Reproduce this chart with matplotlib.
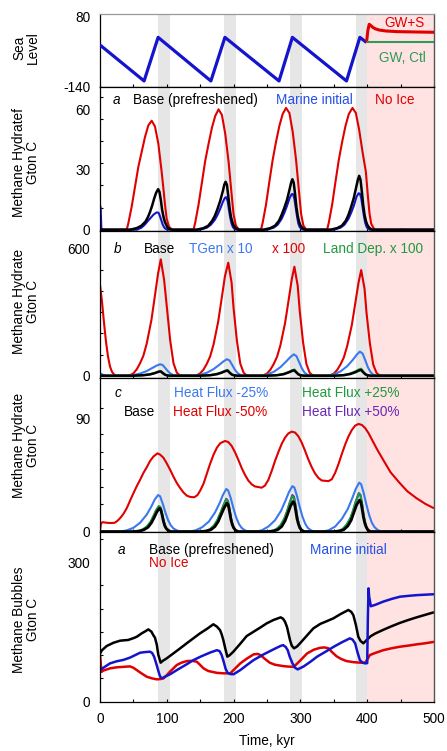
import numpy as np
import matplotlib
matplotlib.use("Agg")
import matplotlib.pyplot as plt
from matplotlib.ticker import MultipleLocator, FixedLocator

plt.rcParams['font.family'] = ['Liberation Sans', 'DejaVu Sans']
plt.rcParams['font.size'] = 9.8

# time axis, kyr
t_end = 500
glacial_bands = [(87, 105), (186, 204), (284, 302), (383, 399)]
no_ice_start = 399

# sea level (m)
sea_level = [(0, -8), (66, -121), (87, 16), (166, -121), (187, 16), (268, -121),
             (288, 16), (369, -121), (389, 16), (399, 0)]
sea_gw_s = [(399, 0), (401, 38), (403, 57), (405, 54), (408, 48), (412, 43), (418, 39),
            (428, 36), (445, 34), (470, 33), (500, 32)]
sea_gw_ctl = [(399, 0), (500, 0)]

# panel a: methane hydrate, Gton C
hyd_base = [(0, 0), (45, 0), (55, 0.8), (62, 2), (68, 4), (72, 6.5), (75, 9), (78, 12), (81, 15.5),
            (84, 18.5), (87, 20.3), (89, 19), (91, 15), (93, 10), (95, 6.5), (97, 4), (99, 2.5),
            (101, 1.2), (104, 0.4), (108, 0),
            (145, 0), (155, 0.8), (162, 2), (168, 4.5), (172, 7), (176, 10.5), (180, 14.5),
            (184, 19.5), (186, 22.5), (188, 24), (190, 22.5), (192, 17), (194, 11), (196, 6.5),
            (198, 4), (200, 2.2), (203, 0.8), (207, 0),
            (245, 0), (255, 0.8), (262, 2), (268, 4.5), (272, 7.5), (276, 11), (280, 15),
            (284, 20.5), (286, 23.5), (288, 25.3), (290, 23.5), (292, 18), (294, 11.5), (296, 7),
            (298, 4), (300, 2.2), (303, 0.8), (307, 0),
            (345, 0), (355, 0.8), (362, 2), (368, 4.5), (372, 7.5), (376, 11.5), (380, 16),
            (384, 22), (386, 25), (388, 27), (390, 25), (392, 19), (394, 12.5), (396, 7.5),
            (398, 4.5), (400, 2.5), (403, 1), (407, 0), (500, 0)]
hyd_marine = [(0, 12.3), (1, 11), (2, 1), (3, 0), (55, 0), (62, 1), (67, 2.5), (72, 4.5), (76, 6),
              (80, 7.5), (84, 8.5), (86, 8.7), (88, 8.3), (90, 6.5), (92, 4.5), (94, 2.5),
              (96, 1.2), (98, 0.5), (101, 0),
              (150, 0), (160, 1), (166, 2.5), (172, 5), (176, 7.5), (180, 10.5), (184, 14),
              (187, 16), (189, 16.3), (191, 14.5), (193, 10), (195, 6), (197, 3), (199, 1.3),
              (201, 0.5), (204, 0),
              (250, 0), (260, 1), (266, 2.5), (272, 5.5), (276, 8.5), (280, 12), (284, 16),
              (287, 17.8), (289, 17.8), (291, 15.5), (293, 11), (295, 6.5), (297, 3), (299, 1.3),
              (301, 0.5), (304, 0),
              (350, 0), (360, 1), (366, 2.5), (372, 5.5), (376, 8.5), (380, 12), (384, 16.5),
              (387, 18.2), (389, 18.1), (391, 16), (393, 11.5), (395, 7), (397, 3.5), (399, 1.5),
              (401, 0.5), (404, 0), (500, 0)]
hyd_no_ice = [(0, 0), (40, 0), (42.4, 3.2), (47.4, 11.5), (52.4, 21.5), (57.4, 31.5), (62.4, 39),
              (67.4, 46.5), (72.4, 52.3), (77.4, 54.6), (82.3, 51.7), (87.3, 43.2), (92.3, 29),
              (94.8, 21), (97.3, 12.5), (99.8, 5.5), (103.3, 1.5), (108, 0),
              (140, 0), (142.5, 3.5), (147.5, 12.5), (152.5, 23.5), (157.5, 34.5), (162.5, 43),
              (167.5, 51), (172.5, 57), (177.5, 60.3), (182.5, 57.5), (187.5, 48), (192.5, 34),
              (195, 25), (197.5, 16), (200, 7.5), (203.5, 2), (208, 0),
              (241, 0), (243.5, 3.5), (248.5, 12.5), (253.5, 24), (258.5, 35), (263.5, 44),
              (268.5, 52), (273.5, 58), (278.5, 61), (283.5, 58.5), (288.5, 49), (293.5, 35),
              (296, 26), (298.5, 17), (301, 8), (304.5, 2), (309, 0),
              (340, 0), (342.5, 3.5), (347.5, 12.5), (352.5, 24), (357.5, 35), (362.5, 44),
              (367.5, 52), (372.5, 58), (378, 61), (383, 58.5), (388, 50), (393, 39), (398, 29),
              (401, 17), (403.5, 8), (406, 3), (410, 0.5), (413, 0), (500, 0)]

# panel b: sensitivity to methane generation and land deposition
b_base = [(0, 0), (50, 0), (65, 2), (75, 6), (82, 12), (88, 19), (91, 20), (94, 12), (97, 5),
          (100, 1.5), (105, 0),
          (150, 0), (165, 2), (175, 7), (182, 14), (188, 22), (191, 24), (194, 14), (197, 6),
          (200, 2), (205, 0),
          (250, 0), (265, 2), (275, 7), (282, 15), (288, 23), (291, 25), (294, 15), (297, 6),
          (300, 2), (305, 0),
          (350, 0), (365, 2), (375, 8), (382, 16), (388, 25), (391, 27), (394, 16), (397, 7),
          (400, 2), (405, 0), (500, 0)]
b_tgen10 = [(0, 12), (4, 5), (8, 0), (40, 0), (50, 3), (60, 10), (70, 22), (78, 36), (85, 48),
            (90, 54), (94, 50), (98, 35), (102, 20), (106, 9), (110, 3), (114, 0),
            (140, 0), (150, 4), (160, 14), (170, 31), (178, 50), (185, 68), (190, 78), (194, 72),
            (198, 50), (202, 28), (206, 12), (210, 4), (214, 0),
            (240, 0), (250, 5), (260, 18), (270, 40), (278, 65), (285, 88), (290, 101), (294, 93),
            (298, 65), (302, 36), (306, 15), (310, 5), (314, 0),
            (340, 0), (350, 6), (360, 20), (370, 45), (378, 73), (384, 98), (389, 114), (393, 105),
            (397, 74), (401, 40), (405, 17), (409, 5), (413, 0), (500, 0)]
b_tgen100 = [(0, 430), (3, 350), (6, 250), (9, 160), (12, 90), (15, 43), (18, 18), (21, 6),
             (24, 1), (28, 0),
             (43, 0), (46, 4), (50, 11), (55, 30), (60, 59), (65, 95), (70, 153), (77, 264),
             (82, 374), (87, 485), (91, 551), (96, 453), (100, 327), (105, 169), (110, 59),
             (115, 14), (119, 3), (123, 0),
             (143, 0), (146, 4), (150, 11), (155, 29), (160, 57), (165, 92), (170, 148), (177, 257),
             (182, 363), (187, 470), (192, 535), (197, 440), (200, 318), (205, 164), (210, 57),
             (215, 14), (219, 3), (223, 0),
             (243, 0), (246, 4), (250, 10), (255, 28), (260, 55), (265, 89), (270, 143), (277, 248),
             (282, 350), (287, 455), (291, 516), (296, 425), (299, 307), (304, 158), (309, 55),
             (314, 13), (318, 3), (322, 0),
             (343, 0), (346, 4), (350, 10), (355, 27), (360, 53), (365, 86), (370, 140), (377, 240),
             (382, 340), (387, 440), (391, 500), (396, 412), (399, 297), (404, 153), (409, 53),
             (414, 13), (418, 3), (422, 0), (500, 0)]
b_land100 = [(0, 0), (48, 0), (63, 2), (74, 7), (82, 13), (88, 20), (91, 22), (94, 14), (97, 6),
             (101, 1.5), (106, 0),
             (148, 0), (163, 2), (174, 8), (182, 16), (188, 24), (191, 27), (194, 16), (197, 7),
             (201, 2), (206, 0),
             (248, 0), (263, 2), (274, 8), (282, 17), (288, 26), (291, 29), (294, 18), (297, 8),
             (301, 2), (306, 0),
             (348, 0), (363, 2.5), (374, 10), (382, 20), (388, 30), (391, 33), (394, 20), (397, 9),
             (401, 2.5), (406, 0), (500, 0)]

# panel c: sensitivity to geothermal heat flux
c_base = [(0, 0), (50, 0), (60, 0.5), (66, 1.5), (72, 3.5), (77, 7), (81, 11), (85, 15.5),
          (89, 18.5), (91, 17.5), (93, 13), (95, 8), (97, 4.5), (99, 2.5), (102, 1), (106, 0),
          (150, 0), (160, 0.5), (166, 1.5), (172, 4), (177, 8), (181, 13), (186, 19), (190, 22.5),
          (192, 21), (194, 15.5), (196, 9.5), (198, 5.5), (200, 3), (203, 1), (207, 0),
          (250, 0), (260, 0.5), (266, 1.5), (272, 4), (277, 8.5), (281, 14), (285, 20),
          (289, 23.8), (291, 22.5), (293, 16.5), (295, 10), (297, 6), (299, 3), (302, 1), (306, 0),
          (349, 0), (359, 0.5), (365, 1.5), (371, 4.5), (376, 9), (380, 15), (384, 21),
          (388.5, 25), (390.5, 23.5), (392.5, 17.5), (394.5, 11), (396.5, 6.5), (398.5, 3.5),
          (401, 1.2), (405, 0), (500, 0)]
c_flux_m25 = [(0, 0), (30, 0), (40, 1), (50, 3), (60, 7), (70, 13.5), (77, 20), (82, 25.5),
              (87, 29), (90, 28), (94, 22), (98, 15), (102, 9), (106, 5), (110, 2.5), (115, 1),
              (120, 0),
              (133, 0), (143, 1), (153, 3.5), (163, 8), (172, 15), (179, 22.5), (184, 29),
              (189, 33.8), (192, 32.5), (196, 26), (200, 18), (204, 11), (208, 6), (212, 3),
              (217, 1), (222, 0),
              (232, 0), (242, 1), (252, 4), (262, 9), (271, 16.5), (278, 25), (283, 31.5),
              (288, 36), (291, 35), (295, 28), (299, 19.5), (303, 12), (307, 6.5), (311, 3),
              (316, 1), (321, 0),
              (332, 0), (342, 1), (352, 4), (362, 10), (371, 18), (378, 27), (383, 34),
              (388, 38.8), (391, 37.5), (395, 30), (399, 21), (403, 13), (407, 7), (411, 3.5),
              (416, 1.2), (421, 0), (500, 0)]
c_flux_m50 = [(0, 1), (1.5, 6.5), (4, 7.5), (10, 7), (16, 6.8), (22, 7), (26, 8.5), (30, 10.6),
              (35, 14), (40, 18.5), (45, 24.5), (50, 30.4), (55, 36), (60, 41), (65, 46.5),
              (70, 51), (75, 56), (80, 59.5), (86, 62), (90, 61), (95, 58.5), (100, 54),
              (105, 49), (110, 43.5), (115, 38.5), (120, 34.5), (125, 31), (130, 28.5),
              (135, 27.5), (141, 27.2), (146, 29), (150, 32.5), (155, 38), (160, 46), (165, 54),
              (170, 61), (175, 66.5), (180, 70), (187, 71.8), (192, 71), (197, 68), (202, 63),
              (207, 57), (212, 50.5), (217, 45), (222, 40.5), (227, 37.5), (232, 35.8),
              (242, 34.8), (247, 36.5), (252, 41), (257, 48), (262, 56), (267, 63), (272, 69.5),
              (277, 74.5), (282, 77.8), (287, 79.2), (292, 78.5), (297, 75.5), (302, 70.5),
              (307, 64), (312, 57), (317, 51), (322, 46), (327, 42.5), (332, 40.5), (342, 40),
              (347, 41.5), (352, 46.5), (357, 53.5), (362, 61.5), (367, 69), (372, 75.5),
              (377, 80.5), (382, 84), (387, 85.3), (392, 84.5), (397, 82), (402, 78), (408, 72),
              (415, 65), (424, 56.8), (435, 47), (449, 38.3), (460, 32), (474, 26.4), (487, 22),
              (500, 18.5)]
c_flux_p25 = [(0, 0), (48, 0), (58, 0.6), (64, 1.8), (70, 4), (76, 8), (80, 12.5), (84, 17),
              (88, 20.3), (90.5, 19.5), (93, 14.5), (95, 9.5), (97, 5.5), (99, 3), (102, 1.2),
              (106, 0),
              (148, 0), (158, 0.6), (164, 1.8), (170, 4.5), (176, 9.5), (180, 14.5), (185, 21),
              (189, 25.5), (191.5, 24), (194, 17.5), (196, 11), (198, 6.5), (200, 3.5), (203, 1.2),
              (207, 0),
              (248, 0), (258, 0.6), (264, 2), (270, 5), (276, 10.5), (280, 16), (284, 22.5),
              (288, 28), (290.5, 26.5), (293, 19.5), (295, 12.5), (297, 7.5), (299, 4), (302, 1.3),
              (306, 0),
              (347, 0), (357, 0.6), (363, 2), (369, 5.5), (375, 11), (379, 17), (383, 24),
              (387.5, 30), (390, 28.5), (392.5, 21), (394.5, 13.5), (396.5, 8), (398.5, 4.5),
              (401, 1.5), (405, 0), (500, 0)]
c_flux_p50 = [(0, 0), (49, 0), (59, 0.6), (65, 1.8), (71, 4), (76, 7.5), (80, 12), (84, 16.5),
              (88, 19.5), (90.5, 18.8), (93, 14), (95, 9), (97, 5.2), (99, 2.8), (102, 1.1),
              (106, 0),
              (149, 0), (159, 0.6), (165, 1.8), (171, 4.5), (176, 9), (180, 14), (185, 21),
              (189, 26), (191.5, 24.5), (194, 18), (196, 11.5), (198, 6.5), (200, 3.5),
              (203, 1.2), (207, 0),
              (249, 0), (259, 0.6), (265, 2), (271, 5), (276, 10), (280, 16), (284, 23),
              (288, 29), (290.5, 27.5), (293, 20), (295, 13), (297, 7.5), (299, 4), (302, 1.3),
              (306, 0),
              (348, 0), (358, 0.6), (364, 2), (370, 5.5), (375, 10.5), (379, 16.5), (383, 24),
              (387.5, 30.5), (390, 29), (392.5, 21.5), (394.5, 14), (396.5, 8), (398.5, 4.5),
              (401, 1.5), (405, 0), (500, 0)]

# bottom panel: methane bubbles, Gton C
bub_base = [(0, 103), (3, 110), (10, 119), (20, 126), (30, 130.5), (37, 131.5), (42, 132),
            (50, 136), (55, 139), (62, 146), (68, 151), (72.4, 155), (77, 150), (80, 142),
            (82.3, 137), (85, 122), (87.3, 100), (90.8, 83), (94, 87), (99.8, 92.3), (109.8, 103),
            (120, 114), (129.7, 124.8), (139.7, 135.6), (149.7, 146.4), (160, 156), (169.7, 166),
            (175, 161), (179.6, 153.6), (182, 145), (184.6, 132), (187.5, 114), (190.6, 96),
            (194, 99), (199.6, 106.7), (210, 124), (219.6, 140.6), (230, 150), (240, 159),
            (249.5, 168), (260, 175.5), (270.5, 181), (274, 178), (276.9, 171.6), (280, 160),
            (284.4, 132), (287, 120), (290.4, 114), (295, 118), (299.4, 124.8), (310, 142),
            (319.4, 157.2), (330, 167), (340, 173), (349.3, 178.8), (360, 188), (371.8, 196.9),
            (376, 193), (379.2, 186), (383, 165), (386.7, 139), (390, 130), (394.2, 124.8),
            (399.2, 132), (405, 140), (412, 146), (424, 154), (436, 161.5), (449, 169),
            (462, 175.5), (474, 181), (487, 186.5), (500, 192)]
bub_marine = [(0, 67), (5, 72), (15, 81.5), (25, 86), (35, 89), (45, 94), (55, 101), (60, 104.5),
              (68, 106), (75, 106.7), (78, 104), (81, 96), (84, 82), (87, 67), (89, 57),
              (91, 50.5), (94, 50), (97, 52.6), (105, 58), (115, 67), (128, 78), (140, 88.7),
              (152, 97), (165, 105), (175, 110), (179, 108), (182, 100), (185, 86), (188, 70),
              (191, 61), (195, 58.4), (200, 58), (210, 67), (220, 78), (230, 88.7), (245, 101),
              (260, 112), (270, 119), (274, 121), (278, 117), (281, 110), (284, 96), (288, 82),
              (292, 72), (296, 68.5), (305, 75), (315, 85), (325, 96), (338, 107), (350, 117.5),
              (362, 127), (374, 135.6), (378, 133), (382, 124.8), (385, 108), (389, 88.7),
              (393, 83), (397, 81.5), (400, 82), (401, 180), (402, 243.7), (403, 225),
              (405.5, 205), (412, 208), (424, 215), (437, 221), (449, 225.6), (462, 227.5),
              (474, 229), (487, 230), (500, 231)]
bub_no_ice = [(0, 101.7), (1, 85), (2, 63), (5, 66), (15, 70.7), (25, 73), (35, 74), (45, 75),
              (50, 72), (55, 67), (62, 60), (70, 52.6), (78, 49), (85, 47), (90, 47.5), (95, 49),
              (100, 56), (105, 64), (110, 71), (115, 78), (122, 83), (130, 86.5), (138, 87),
              (145, 85), (150, 78), (155, 70.7), (162, 65), (175, 61), (185, 60), (195, 60),
              (202, 70), (210, 81.5), (220, 92), (230, 101), (236, 102), (240, 99.5), (247, 91),
              (254, 83), (262, 78.5), (274, 75.7), (282, 74.5), (290, 74), (300, 88), (310, 103),
              (320, 111), (329, 115), (336, 116), (342, 114), (348, 105), (354, 97), (361, 91),
              (369, 86.5), (380, 84), (390, 83), (397, 83), (401, 92), (404, 99.5), (412, 104),
              (424, 110), (436, 114), (449, 117.5), (462, 120), (474, 122.6), (487, 125),
              (500, 128)]

RED = '#e00000'
DBLUE = '#1414cc'
BLUE = '#3a78f0'
TBLUE = '#2450e6'
GREEN = '#1f9a3e'
PURPLE = '#6a28b4'
GRAY = '#e6e6e6'
PINK = '#ffe2e2'

W, H = 447, 751
fig = plt.figure(figsize=(W / 100, H / 100), dpi=100)

# panel frames in pixels
left, right = 100, 434
edges = [14, 87, 231, 378, 532, 702]
axes = []
for top, bot in zip(edges[:-1], edges[1:]):
    ax = fig.add_axes([left / W, 1 - bot / H, (right - left) / W, (bot - top) / H])
    axes.append(ax)


def shade(ax):
    for a, b in glacial_bands:
        ax.axvspan(a, b, color=GRAY, lw=0, zorder=0)
    ax.axvspan(no_ice_start, t_end, color=PINK, lw=0, zorder=0)


def curve(ax, pts, color, lw=1.5, z=2):
    t, v = np.array(pts, dtype=float).T
    ax.plot(t, v, color=color, lw=lw, zorder=z, solid_joinstyle='round',
            solid_capstyle='butt')


def style(ax, ylim, yticks, minor, bottom=False):
    ax.set_xlim(0, t_end)
    ax.set_ylim(*ylim)
    ax.set_yticks(yticks)
    ax.set_yticklabels([str(v) for v in yticks])
    if minor is not None:
        if np.isscalar(minor):
            ax.yaxis.set_minor_locator(MultipleLocator(minor))
        else:
            ax.yaxis.set_minor_locator(FixedLocator(minor))
    ax.tick_params(axis='y', which='major', length=0, pad=7)
    ax.tick_params(axis='y', which='minor', direction='in', length=2.5, width=0.8)
    ax.xaxis.set_major_locator(MultipleLocator(100))
    ax.xaxis.set_minor_locator(MultipleLocator(50))
    ax.tick_params(axis='x', which='both', direction='in', length=2.5, width=0.8, pad=7,
                   labelbottom=bottom)
    for s in ax.spines.values():
        s.set_linewidth(0.9)
        s.set_color('black')
    ax.spines['right'].set_color('#555555')
    ax.spines['right'].set_linewidth(1.0)


for ax in axes:
    shade(ax)

# sea level
ax0 = axes[0]
curve(ax0, sea_level, DBLUE, lw=2.3, z=3)
curve(ax0, sea_gw_s, RED, lw=2.2, z=3)
curve(ax0, sea_gw_ctl, '#2e9a55', lw=1.5, z=3)
style(ax0, (-140, 89.4), [-140, 80], None)
ax0.spines['top'].set_color('#999999')
ax0.text(456, 62, 'GW+S', color=RED, ha='center', va='center')
ax0.text(452, -49, 'GW, Ctl', color='#2e9a55', ha='center', va='center')

# panel a
ax1 = axes[1]
curve(ax1, hyd_no_ice, RED)
curve(ax1, hyd_marine, DBLUE)
curve(ax1, hyd_base, 'black', lw=1.8)
style(ax1, (-0.65, 71.5), [0, 30, 60], 11.1)
ax1.text(25, 65, 'a', style='italic', ha='center', va='center')
ax1.text(49, 65, 'Base (prefreshened)', ha='left', va='center')
ax1.text(263, 65, 'Marine initial', color=TBLUE, ha='left', va='center')
ax1.text(411, 65, 'No Ice', color=RED, ha='left', va='center')

# panel b
ax2 = axes[2]
curve(ax2, b_tgen100, RED)
curve(ax2, b_tgen10, BLUE)
curve(ax2, b_land100, GREEN)
curve(ax2, b_base, 'black', lw=1.8)
style(ax2, (-11, 685), [0, 600], 100)
ax2.text(27, 600, 'b', style='italic', ha='center', va='center')
ax2.text(66, 600, 'Base', ha='left', va='center')
ax2.text(133, 600, 'TGen x 10', color=BLUE, ha='left', va='center')
ax2.text(258, 600, 'x 100', color=RED, ha='left', va='center')
ax2.text(334, 600, 'Land Dep. x 100', color=GREEN, ha='left', va='center')

# panel c
ax3 = axes[3]
curve(ax3, c_flux_m50, RED)
curve(ax3, c_flux_m25, BLUE)
curve(ax3, c_flux_p50, PURPLE)
curve(ax3, c_flux_p25, GREEN)
curve(ax3, c_base, 'black', lw=2.0)
style(ax3, (-0.3, 121.7), [0, 90], [7.9, 21.7, 35.6, 49.6, 63.3, 77.1, 97.7])
ax3.text(27, 110, 'c', style='italic', ha='center', va='center')
ax3.text(111, 110, 'Heat Flux -25%', color=BLUE, ha='left', va='center')
ax3.text(302, 110, 'Heat Flux +25%', color=GREEN, ha='left', va='center')
ax3.text(35, 95, 'Base', ha='left', va='center')
ax3.text(110, 95, 'Heat Flux -50%', color=RED, ha='left', va='center')
ax3.text(302, 95, 'Heat Flux +50%', color=PURPLE, ha='left', va='center')

# bubbles
ax4 = axes[4]
curve(ax4, bub_base, 'black', lw=1.8)
curve(ax4, bub_no_ice, RED, lw=1.8)
curve(ax4, bub_marine, DBLUE, lw=1.8)
style(ax4, (-2, 365.5), [0, 300], 50, bottom=True)
ax4.text(32, 327, 'a', style='italic', ha='center', va='center')
ax4.text(74, 327, 'Base (prefreshened)', ha='left', va='center')
ax4.text(314, 327, 'Marine initial', color=TBLUE, ha='left', va='center')
ax4.text(74, 298, 'No Ice', color=RED, ha='left', va='center')
ax4.set_xticks([0, 100, 200, 300, 400, 500])
ax4.set_xlabel('Time, kyr', labelpad=6)

# axis titles on the left
ylabels = [('Sea\nLevel', 47.5), ('Methane Hydratef\nGton C', 162.5),
           ('Methane Hydrate\nGton C', 301.5), ('Methane Hydrate\nGton C', 445),
           ('Methane Bubbles\nGton C', 619.5)]
for txt, ypix in ylabels:
    fig.text(26 / W, 1 - ypix / H, txt, rotation=90, ha='center', va='center',
             multialignment='center', linespacing=1.0)

fig.savefig('out.png', dpi=100)
